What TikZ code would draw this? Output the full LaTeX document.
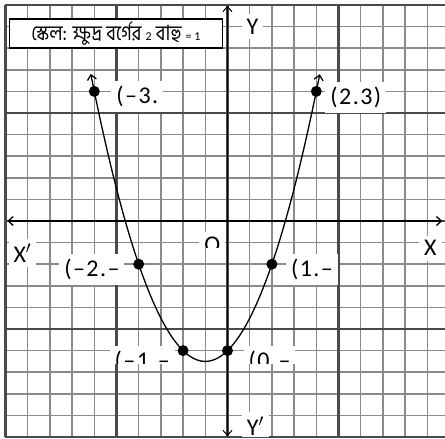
\documentclass[tikz,border=0pt]{standalone}
\usepackage{fontspec}
\setmainfont{Carlito}
\newfontfamily\lblfont[LetterSpace=6]{Carlito}
\newfontfamily\bnfont[Script=Bengali, FakeStretch=0.88]{Hind Siliguri}
\usetikzlibrary{positioning, arrows.meta}
\definecolor{minorgrid}{HTML}{8A8A8A}
\definecolor{majorgrid}{HTML}{4A4A4A}

\begin{document}
\begin{tikzpicture}[
        x=44.4pt, y=43.2pt,
        minor/.style={draw=minorgrid, line width=1.5pt},
        major/.style={draw=majorgrid, line width=2.3pt},
        axis/.style={black, line width=1.3pt, {Straight Barb[length=5pt,width=9pt]}-{Straight Barb[length=5pt,width=9pt]}},
        curve/.style={black, line width=1.3pt, {Straight Barb[length=5pt,width=9pt]}-{Straight Barb[length=5pt,width=9pt]}},
        dot/.style={circle, fill=black, inner sep=0pt, minimum size=11pt},
        lbl/.style={fill=white, inner sep=5pt, font=\lblfont\fontsize{24}{26}\selectfont},
        scalebox/.style={draw=black, line width=1.6pt, fill=white, inner sep=1pt, minimum width=213pt, minimum height=29pt, anchor=north west}
    ]
    \useasboundingbox (-227.5pt,-218pt) rectangle (217.5pt,221pt);

    % Grid
    \begin{scope}
        \clip (-227.5pt,-218pt) rectangle (217.5pt,221pt);
        \draw[minor] (-5,-5) grid[step=0.5] (5,5);
        \draw[major] (-5,-5) grid[step=2.5] (5,5);
    \end{scope}

    % Axes
    \coordinate (xl) at (-4.96,0);
    \coordinate (xr) at (4.84,0);
    \coordinate (yb) at (0,-4.98);
    \coordinate (yt) at (0,4.98);
    \draw[axis] (xl) -- (xr);
    \draw[axis, line width=1pt] (yb) -- (yt);

    % Curve y = x^2 + x - 3
    \draw[curve] plot[domain=-3.08:2.08, samples=120, smooth] (\x, {\x*\x+\x-3});

    % Points
    \coordinate (pA) at (-3,3);
    \coordinate (pB) at (2,3);
    \coordinate (pC) at (-2,-1);
    \coordinate (pD) at (1,-1);
    \coordinate (pE) at (-1,-3);
    \coordinate (pF) at (0,-3);

    % Labels
    \node[lbl, right=17pt of pA, yshift=-5pt] (lA) {(–3.};
    \node[lbl, right=9pt of pB, yshift=-6pt] (lB) {(2.3)};
    \node[lbl, left=14pt of pC, yshift=-5pt] (lC) {(–2.–};
    \node[lbl, right=14pt of pD, yshift=-5pt] (lD) {(1.–};
    \node[lbl] (ly) at (0.56,4.5) {Y};
    \node[lbl] (lx) at (4.57,-0.63) {X};
    \node[lbl] (lxp) at (-4.62,-0.74) {X$'$};
    \begin{scope}
        \clip (-5,-0.62) rectangle (5,5);
        \node[lbl] (lo) at (-0.34,-0.55) {O};
    \end{scope}
    \begin{scope}
        \clip (-5,-3.29) rectangle (5,-2);
        \node[lbl, left=8pt of pE, yshift=-11pt] (lE) {(–1.–};
        \node[lbl, right=16pt of pF, yshift=-11pt] (lF) {(0.–};
    \end{scope}
    \begin{scope}
        \clip (-5,-4.98) rectangle (5,-4);
        \node[lbl] (lyp) at (0.63,-4.76) {Y$'$};
    \end{scope}

    % Dots
    \node[dot] (dA) at (pA) {};
    \node[dot] (dB) at (pB) {};
    \node[dot] (dC) at (pC) {};
    \node[dot] (dD) at (pD) {};
    \node[dot] (dE) at (pE) {};
    \node[dot] (dF) at (pF) {};

    % Scale
    \node[scalebox] (scale) at (-4.93,4.7) {\bnfont\fontsize{21}{23}\selectfont স্কেল: ক্ষুদ্র বর্গের {\normalfont\fontsize{12}{12}\selectfont 2} বাহু {\normalfont\fontsize{12}{12}\selectfont = 1}};
\end{tikzpicture}
\end{document}
